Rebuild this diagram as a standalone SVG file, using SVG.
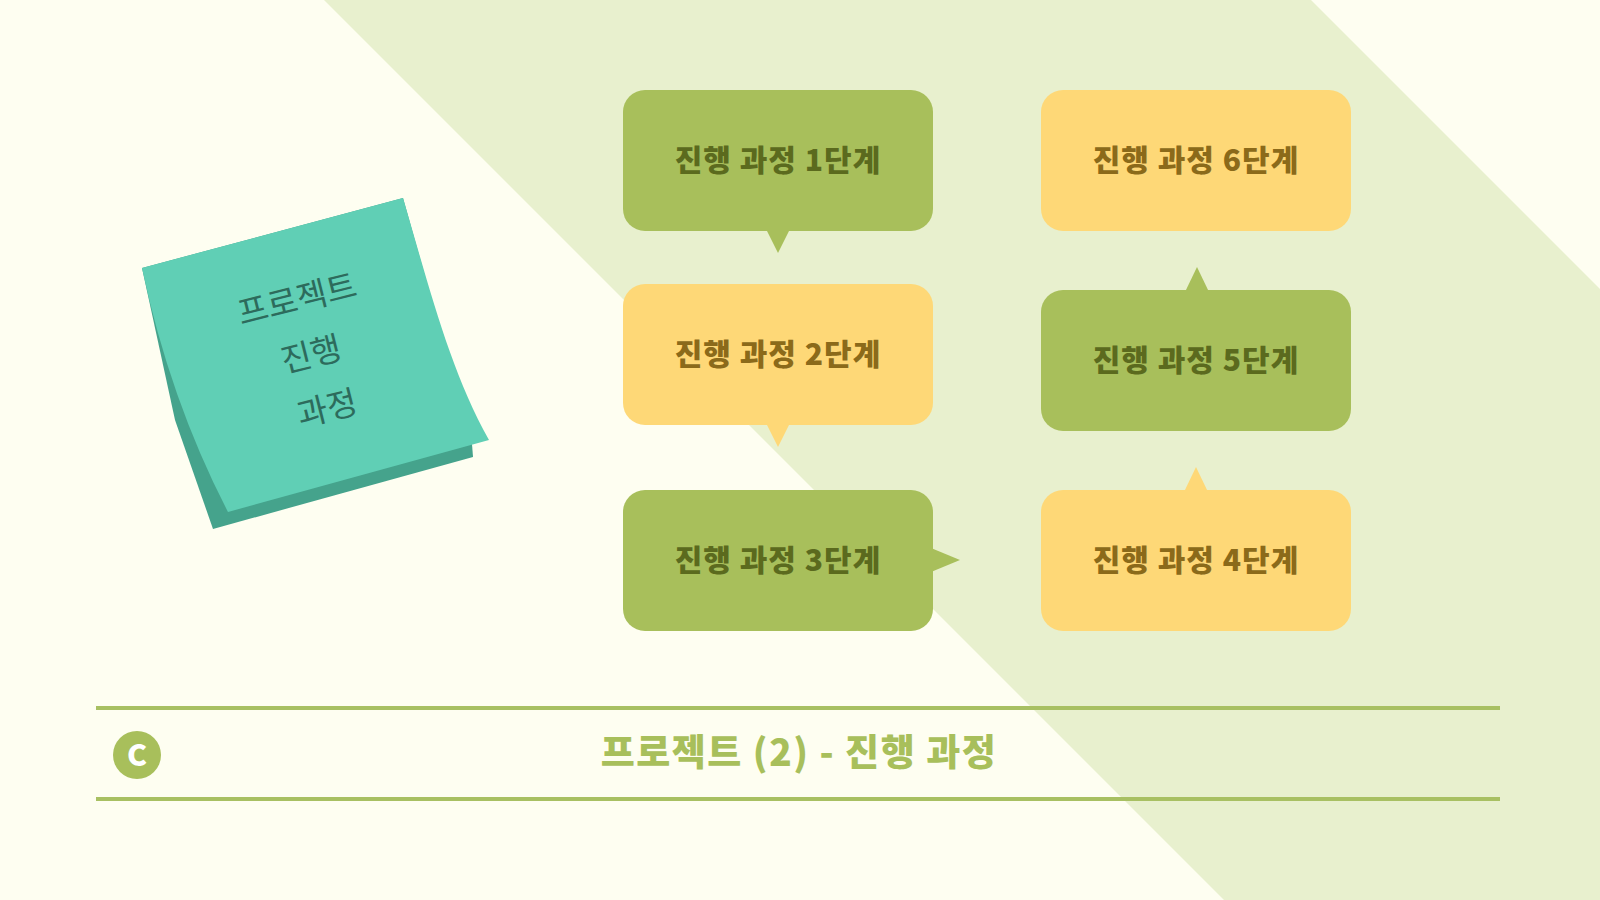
<svg xmlns="http://www.w3.org/2000/svg" width="1600" height="900" viewBox="0 0 1600 900">
  <defs>
    <style>
      .green { fill: #A8BF5B; }
      .yellow { fill: #FED877; }
      .lbl { font-family: "Noto Sans CJK KR", "Noto Sans", sans-serif; font-weight: 900; font-size: 30px; letter-spacing: 1px; text-anchor: middle; }
      .lg { fill: #5B6A1E; }
      .ly { fill: #8B6A1A; }
      .note { font-family: "Noto Sans CJK KR", "Noto Sans", sans-serif; font-weight: 400; font-size: 33px; fill: #2D6B5C; text-anchor: middle; }
      .rule { stroke: #A8C062; stroke-width: 4; }
    </style>
  </defs>
  <rect width="1600" height="900" fill="#FEFEF1"/>
  <polygon points="324,0 1311,0 1600,289 1600,900 1224,900" fill="#E8F0CE"/>

  <g id="sticky-note">
    <path d="M142,268 L175,420 L213,529 L473,457 L472,444 L403,198 Z" fill="#45A38C"/>
    <path d="M142,268 L403,198 C430,290 450,370 489,440 L228,512 Q170,400 142,268 Z" fill="#60CFB5"/>
    <text class="note" transform="translate(297,299) rotate(-14)" y="12">프로젝트</text>
    <text class="note" transform="translate(311,354) rotate(-14)" y="12">진행</text>
    <text class="note" transform="translate(327,408) rotate(-14)" y="12">과정</text>
  </g>

  <g id="connectors">
    <polygon class="green" points="766,229 790,229 778,253"/>
    <polygon class="yellow" points="766,423 790,423 778,447"/>
    <polygon class="green" points="931,548 931,572 960,560"/>
    <polygon class="yellow" points="1184,492 1208,492 1196,467"/>
    <polygon class="green" points="1185,292 1209,292 1197,267"/>
  </g>

  <g id="step1">
    <rect class="green" x="623" y="90" width="310" height="141" rx="22"/>
    <text class="lbl lg" x="778" y="171">진행 과정 1단계</text>
  </g>
  <g id="step2">
    <rect class="yellow" x="623" y="284" width="310" height="141" rx="22"/>
    <text class="lbl ly" x="778" y="365">진행 과정 2단계</text>
  </g>
  <g id="step3">
    <rect class="green" x="623" y="490" width="310" height="141" rx="22"/>
    <text class="lbl lg" x="778" y="571">진행 과정 3단계</text>
  </g>
  <g id="step4">
    <rect class="yellow" x="1041" y="490" width="310" height="141" rx="22"/>
    <text class="lbl ly" x="1196" y="571">진행 과정 4단계</text>
  </g>
  <g id="step5">
    <rect class="green" x="1041" y="290" width="310" height="141" rx="22"/>
    <text class="lbl lg" x="1196" y="371">진행 과정 5단계</text>
  </g>
  <g id="step6">
    <rect class="yellow" x="1041" y="90" width="310" height="141" rx="22"/>
    <text class="lbl ly" x="1196" y="171">진행 과정 6단계</text>
  </g>

  <g id="footer">
    <line class="rule" x1="96" y1="708" x2="1500" y2="708"/>
    <line class="rule" x1="96" y1="799" x2="1500" y2="799"/>
    <circle cx="137" cy="755" r="24" fill="#A8BF5B"/>
    <text x="137" y="766" font-family="Noto Sans CJK KR, Noto Sans, sans-serif" font-weight="900" font-size="30" fill="#FFFFFF" text-anchor="middle">C</text>
    <text x="799" y="766" font-family="Noto Sans CJK KR, Noto Sans, sans-serif" font-weight="900" font-size="37" letter-spacing="1.5" fill="#A8BF5B" text-anchor="middle">프로젝트 (2) - 진행 과정</text>
  </g>
</svg>
